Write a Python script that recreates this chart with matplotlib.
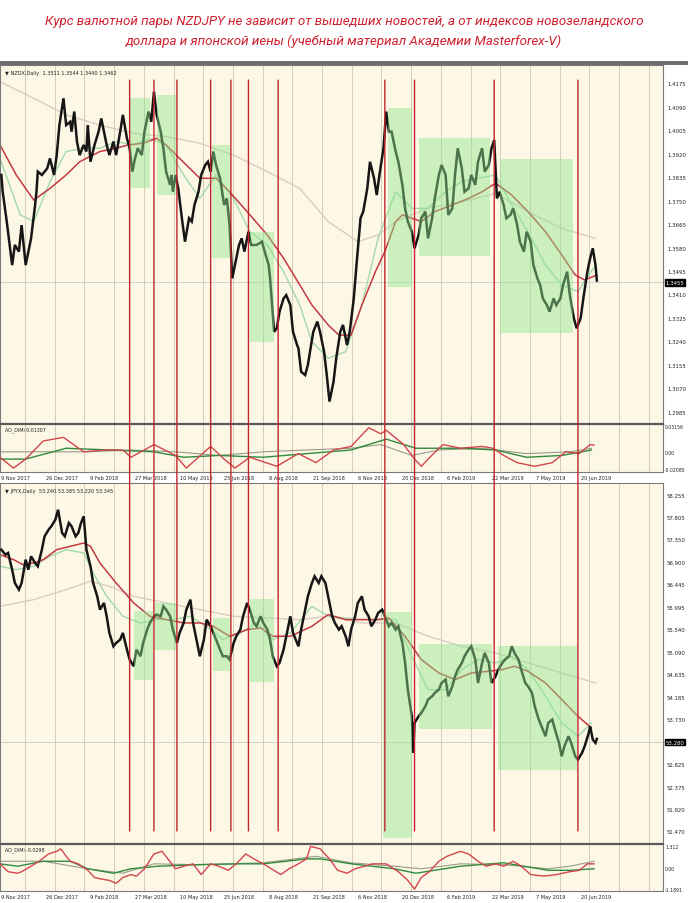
import numpy as np
import matplotlib
matplotlib.use('Agg')
import matplotlib.pyplot as plt
import matplotlib.transforms as mtransforms
from matplotlib.patches import Rectangle, ConnectionPatch

# ---------------- DATA ----------------
title_lines = ["Курс валютной пары NZDJPY не зависит от вышедших новостей, а от индексов новозеландского",
               "доллара и японской иены (учебный материал Академии Masterforex-V)"]

date_labels = ["9 Nov 2017", "26 Dec 2017", "9 Feb 2018", "27 Mar 2018", "10 May 2018", "25 Jun 2018",
               "8 Aug 2018", "21 Sep 2018", "6 Nov 2018", "20 Dec 2018", "6 Feb 2019", "22 Mar 2019",
               "7 May 2019", "20 Jun 2019"]
date_bars = [1, 34, 67, 100, 133, 166, 199, 232, 265, 298, 331, 364, 397, 430]

event_bars = [96, 114, 131, 156, 171, 184, 206, 285, 307, 366, 428]

# NZD index (top chart)
nz_header = "NZDX,Daily  1.3511 1.3544 1.3440 1.3462"
nz_bar = [1, 2, 5, 9, 11, 14, 16, 19, 21, 23, 26, 27, 28, 31, 35, 37, 40, 42, 44, 47,
          49, 52, 53, 55, 57, 59, 62, 64, 65, 67, 70, 73, 75, 77, 79, 81, 84, 86, 89, 91,
          94, 96, 98, 100, 102, 105, 107, 110, 112, 114, 116, 119, 121, 123, 126, 127, 128, 130, 132, 135,
          137, 140, 142, 144, 147, 149, 152, 154, 156, 158, 160, 163, 166, 168, 170, 172, 174, 177, 179, 181,
          184, 186, 190, 194, 196, 199, 200, 203, 205, 207, 210, 212, 215, 217, 220,
          221, 223, 226, 228, 232, 235, 237, 240, 242, 244, 247, 249, 252, 254, 257, 259, 262, 264, 267, 269,
          272, 274, 277, 279, 281, 284, 286, 288, 290, 293, 295, 298, 300, 302, 305, 307, 310, 312, 315, 317,
          320, 322, 325, 327, 330, 332, 335, 337, 339, 342, 344, 347, 349, 352, 354, 357, 359, 362, 364, 366,
          368, 370, 373, 375, 378, 380, 383, 385, 388, 390, 393, 395, 398, 400, 402, 405, 407, 410, 412, 415,
          417, 420, 422, 425, 427, 430, 432, 435, 437, 439, 441, 442]
nz_close = [1.3845, 1.3784, 1.3676, 1.3518, 1.3591, 1.3567, 1.3663, 1.3518, 1.3567, 1.3615,
            1.3736, 1.3784, 1.3857, 1.3845, 1.3869, 1.3905, 1.3845, 1.3917, 1.4026, 1.4123,
            1.4026, 1.4038, 1.4002, 1.4075, 1.3966, 1.3917, 1.3954, 1.3930, 1.4026, 1.3893,
            1.3954, 1.4002, 1.4050, 1.4002, 1.3954, 1.3917, 1.3966, 1.3917, 1.4002, 1.4063,
            1.3978, 1.3942, 1.3857, 1.3905, 1.3942, 1.3917, 1.4002, 1.4075, 1.4038, 1.4147,
            1.4063, 1.4002, 1.3942, 1.3857, 1.3809, 1.3845, 1.3784, 1.3845, 1.3796, 1.3676,
            1.3603, 1.3688, 1.3676, 1.3736, 1.3784, 1.3845, 1.3881, 1.3893, 1.3857, 1.3930,
            1.3881, 1.3833, 1.3736, 1.3760, 1.3663, 1.3470, 1.3518, 1.3591, 1.3615, 1.3567,
            1.3639, 1.3591, 1.3591, 1.3603, 1.3567, 1.3518, 1.3470, 1.3276, 1.3289, 1.3349,
            1.3397, 1.3409, 1.3373, 1.3276, 1.3228,
            1.3216, 1.3131, 1.3119, 1.3156, 1.3276, 1.3313, 1.3276, 1.3204, 1.3119, 1.3023,
            1.3095, 1.3180, 1.3276, 1.3301, 1.3228, 1.3276, 1.3397, 1.3518, 1.3688, 1.3712,
            1.3796, 1.3893, 1.3833, 1.3772, 1.3845, 1.3942, 1.4075, 1.4002, 1.4002, 1.3930,
            1.3893, 1.3809, 1.3724, 1.3676, 1.3639, 1.3579, 1.3627, 1.3688, 1.3712, 1.3615,
            1.3688, 1.3760, 1.3845, 1.3881, 1.3845, 1.3700, 1.3724, 1.3845, 1.3942, 1.3869,
            1.3784, 1.3796, 1.3845, 1.3809, 1.3893, 1.3942, 1.3857, 1.3881, 1.3942, 1.3972,
            1.3760, 1.3784, 1.3736, 1.3688, 1.3700, 1.3724, 1.3663, 1.3603, 1.3567, 1.3639,
            1.3603, 1.3518, 1.3470, 1.3446, 1.3397, 1.3373, 1.3349, 1.3397, 1.3373, 1.3397,
            1.3446, 1.3494, 1.3409, 1.3325, 1.3289, 1.3325, 1.3397, 1.3494, 1.3542, 1.3579,
            1.3518, 1.3462]
nz_ma_red_bar = [0, 12, 25, 37, 49, 59, 74, 86, 95, 106, 116, 123, 133, 148, 160, 170, 183, 198, 210, 222,
                 231, 243, 251, 260, 268, 278, 285, 293, 298, 305, 312, 322, 335, 347, 357, 367, 379, 391,
                 404, 416, 426, 433, 442]
nz_ma_red = [1.3954, 1.3845, 1.3754, 1.3796, 1.3845, 1.3893, 1.3930, 1.3942, 1.3954, 1.3960, 1.3978,
             1.3954, 1.3905, 1.3833, 1.3833, 1.3784, 1.3712, 1.3627, 1.3543, 1.3446,
             1.3373, 1.3301, 1.3264, 1.3264, 1.3373, 1.3494, 1.3567, 1.3676, 1.3700, 1.3688, 1.3676,
             1.3712, 1.3736, 1.3760, 1.3784, 1.3815, 1.3772, 1.3712, 1.3639, 1.3555, 1.3482, 1.3464, 1.3482]
nz_ma_green_bar = [0, 15, 25, 37, 49, 62, 74, 86, 99, 111, 123, 136, 148, 160, 173, 185, 198, 210, 222,
                   231, 243, 256, 268, 280, 293, 305, 317, 330, 342, 354, 367, 379, 391, 404, 416, 428, 441]
nz_ma_green = [1.3905, 1.3700, 1.3676, 1.3821, 1.3930, 1.3942, 1.3942, 1.3966, 1.3954, 1.3978, 1.3954,
               1.3845, 1.3760, 1.3845, 1.3760, 1.3639, 1.3591, 1.3494, 1.3373,
               1.3240, 1.3180, 1.3204, 1.3373, 1.3615, 1.3784, 1.3724, 1.3724, 1.3784, 1.3821, 1.3833,
               1.3845, 1.3736, 1.3639, 1.3518, 1.3446, 1.3422, 1.3518]
nz_ma_gray_bar = [0, 25, 49, 74, 99, 123, 148, 173, 198, 222, 243, 265, 280, 293, 317, 342, 367, 391, 416, 441]
nz_ma_gray = [1.4183, 1.4123, 1.4063, 1.4026, 1.3996, 1.3984, 1.3960, 1.3917, 1.3857, 1.3796,
              1.3676, 1.3603, 1.3627, 1.3676, 1.3724, 1.3748, 1.3778, 1.3712, 1.3651, 1.3615]
nz_ticks = [1.4175, 1.4090, 1.4005, 1.3920, 1.3835, 1.3750, 1.3665, 1.3580, 1.3495, 1.3410,
            1.3325, 1.3240, 1.3155, 1.3070, 1.2985]
nz_last = 1.3455
nz_box_bar0 = [96, 116, 157, 185, 287, 310, 370]
nz_box_bar1 = [111, 130, 170, 203, 305, 363, 424]
nz_box_lo = [1.3798, 1.3772, 1.3544, 1.3239, 1.3439, 1.3551, 1.3272]
nz_box_hi = [1.4124, 1.4135, 1.3954, 1.3638, 1.4088, 1.3979, 1.3903]

# NZD oscillator
nz_osc_header = "AO_DiMi 0.01307"
nz_osc_red_bar = [0, 10, 19, 32, 47, 62, 78, 91, 97, 114, 130, 138, 156, 166, 174, 185, 205, 221, 234, 247,
                  260, 273, 282, 286, 299, 307, 312, 321, 328, 341, 357, 365, 373, 383, 396, 409, 419, 429, 437, 440]
nz_osc_red = [-0.0057, -0.0188, -0.0079, 0.0140, 0.0184, 0.0009, 0.0031, 0.0031, -0.0057, 0.0096,
              -0.0035, -0.0188, 0.0074, -0.0079, -0.0188, -0.0057, -0.0166, -0.0013, -0.0122, 0.0031,
              0.0074, 0.0300, 0.0227, 0.0270, 0.0096, -0.0079, -0.0166, -0.0013, 0.0096, 0.0052,
              0.0074, 0.0052, -0.0035, -0.0122, -0.0166, -0.0122, 0.0009, -0.0013, 0.0096, 0.0090]
nz_osc_green_bar = [0, 19, 49, 81, 114, 136, 162, 195, 227, 260, 286, 308, 341, 367, 390, 416, 438]
nz_osc_green = [-0.0079, -0.0079, 0.0052, 0.0031, 0.0009, -0.0057, -0.0035, -0.0057, -0.0013, 0.0031,
                0.0162, 0.0052, 0.0052, 0.0031, -0.0057, -0.0035, 0.0031]
nz_osc_gray_bar = [0, 32, 65, 97, 130, 162, 195, 227, 260, 282, 305, 325, 357, 390, 422, 438]
nz_osc_gray = [0.0009, 0.0009, 0.0009, 0.0031, 0.0009, -0.0035, 0.0009, 0.0031, 0.0052, 0.0096,
               -0.0035, 0.0031, 0.0052, -0.0013, 0.0009, 0.0052]
nz_osc_ticks = ["0.03156", "0.00", "-0.02085"]
nz_osc_tick_vals = [0.03156, 0.0, -0.02085]

# JPY index (bottom chart)
jp_header = "JPYX,Daily  53.240 53.385 53.220 53.345"
jp_bar = [1, 4, 6, 9, 11, 14, 16, 19, 21, 23, 26, 28, 31, 33, 36, 38, 41, 43, 46, 48,
          51, 53, 56, 58, 60, 62, 64, 67, 69, 72, 74, 77, 79, 81, 84, 86, 89, 91, 94, 96,
          99, 101, 104, 106, 109, 111, 114, 116, 119, 121, 123, 126, 128, 131, 133, 136, 138, 141, 143, 146,
          148, 151, 153, 156, 158, 160, 163, 165, 168, 170, 173, 175, 178, 180, 183, 185, 188, 190, 193, 195,
          198, 200, 202, 205, 207, 210, 212, 215, 217,
          221, 223, 226, 228, 231, 233, 236, 238, 241, 243, 246, 248, 251, 253, 256, 258, 260, 263, 265, 268,
          270, 273, 275, 278, 280, 283, 285, 288, 290, 293, 295, 298, 300, 302, 305, 306, 307, 310, 312, 315,
          317, 320, 322, 325, 327, 330, 332, 335, 337, 339, 342, 344, 347, 349, 352, 354, 357, 359, 362, 364,
          367, 369, 372, 374, 377, 379, 381, 384, 386, 389, 391, 394, 396, 399, 401, 404, 406, 409, 411, 414,
          416, 418, 421, 423, 426, 428, 431, 433, 436, 437, 439, 441, 442]
jp_close = [57.155, 57.054, 57.088, 56.752, 56.484, 56.350, 56.484, 56.954, 56.752, 57.021,
            56.887, 56.820, 57.155, 57.423, 57.558, 57.625, 57.759, 57.960, 57.491, 57.423,
            57.692, 57.625, 57.423, 57.491, 57.692, 57.826, 57.155, 56.820, 56.484, 56.216,
            55.947, 56.082, 55.813, 55.478, 55.209, 55.276, 55.344, 55.478, 55.142, 54.941,
            54.807, 55.142, 55.008, 55.276, 55.545, 55.679, 55.813, 55.847, 55.813, 56.015,
            55.947, 55.813, 55.545, 55.276, 55.478, 55.679, 55.947, 56.149, 55.679, 55.276,
            55.008, 55.344, 55.746, 55.612, 55.478, 55.344, 55.142, 55.008, 55.008, 54.941,
            55.276, 55.411, 55.545, 55.813, 56.082, 55.947, 55.679, 55.612, 55.813, 55.679,
            55.545, 55.344, 55.008, 54.807, 54.874, 55.142, 55.411, 55.813, 55.478,
            55.209, 55.545, 55.947, 56.216, 56.484, 56.618, 56.484, 56.618, 56.484, 56.216,
            55.813, 55.679, 55.545, 55.612, 55.411, 55.209, 55.545, 55.813, 56.082, 56.216,
            55.947, 55.813, 55.612, 55.746, 55.880, 55.947, 55.813, 55.612, 55.679, 55.545,
            55.612, 55.276, 54.874, 54.337, 53.800, 53.062, 53.666, 53.800, 53.867, 54.001,
            54.136, 54.203, 54.270, 54.337, 54.471, 54.538, 54.203, 54.404, 54.605, 54.739,
            54.874, 55.008, 55.142, 55.209, 54.941, 54.471, 54.874, 55.075, 54.874, 54.471,
            54.605, 54.739, 54.874, 54.941, 55.008, 55.209, 55.075, 54.941, 54.739, 54.471,
            54.404, 54.270, 54.001, 53.733, 53.599, 53.398, 53.666, 53.733, 53.532, 53.264,
            52.995, 53.197, 53.398, 53.264, 52.995, 52.928, 53.062, 53.197, 53.465, 53.599,
            53.331, 53.264, 53.345]
jp_ma_red_bar = [0, 10, 17, 25, 32, 42, 52, 62, 67, 74, 86, 99, 111, 123, 136, 148, 158, 170, 183, 193,
                 202, 215, 231, 243, 256, 268, 280, 288, 300, 312, 325, 337, 349, 362, 372, 381, 391,
                 404, 416, 428, 438]
jp_ma_red = [57.054, 56.954, 56.853, 56.887, 56.954, 57.155, 57.222, 57.289, 57.222, 56.887, 56.484,
             56.082, 55.813, 55.746, 55.679, 55.679, 55.612, 55.411, 55.545, 55.578,
             55.411, 55.411, 55.612, 55.847, 55.746, 55.746, 55.746, 55.780, 55.411, 54.941, 54.672,
             54.538, 54.672, 54.706, 54.740, 54.807, 54.706, 54.471, 54.136, 53.800, 53.566]
jp_ma_green_bar = [0, 12, 25, 37, 49, 62, 69, 79, 91, 104, 116, 128, 141, 153, 165, 178, 190, 202, 215,
                   231, 243, 268, 293, 305, 317, 330, 342, 354, 367, 379, 391, 404, 416, 428, 438]
jp_ma_green = [56.820, 56.752, 56.820, 57.021, 57.155, 57.088, 56.685, 56.216, 55.813, 55.679, 55.746,
               55.746, 55.813, 55.612, 55.344, 55.478, 55.679, 55.344, 55.478,
               56.015, 55.813, 55.746, 55.746, 55.008, 54.337, 54.337, 54.740, 54.941, 54.874, 55.008,
               54.740, 54.203, 53.666, 53.398, 53.666]
jp_ma_gray_bar = [0, 25, 49, 67, 81, 99, 123, 148, 173, 198, 222, 243, 268, 293, 305, 317, 342, 367, 391, 416, 441]
jp_ma_gray = [56.015, 56.149, 56.350, 56.518, 56.417, 56.216, 56.082, 55.947, 55.813, 55.780, 55.746,
              55.813, 55.679, 55.679, 55.545, 55.411, 55.209, 55.075, 54.874, 54.672, 54.471]
jp_ticks = [58.255, 57.805, 57.350, 56.900, 56.445, 55.995, 55.540, 55.090, 54.635, 54.185,
            53.730, 52.825, 52.375, 51.920, 51.470]
jp_last = 53.280
jp_box_bar0 = [99, 115, 158, 185, 284, 310, 369]
jp_box_bar1 = [113, 130, 170, 203, 305, 364, 427]
jp_box_lo = [54.531, 55.135, 54.712, 54.491, 51.351, 53.545, 52.720]
jp_box_hi = [55.920, 56.081, 55.779, 56.162, 55.900, 55.256, 55.215]

# JPY oscillator
jp_osc_header = "AO_DiMi -0.0298"
jp_osc_red_bar = [0, 6, 13, 16, 23, 29, 36, 42, 45, 49, 52, 58, 65, 70, 75, 81, 86, 91, 97, 101,
                  107, 114, 120, 130, 136, 143, 149, 156, 162, 169, 175, 182, 188, 195, 201, 208, 214, 221, 227, 230,
                  237, 244, 250, 257, 263, 270, 276, 286, 295, 302, 307, 312, 318, 325, 331, 341, 347, 354, 360, 367,
                  373, 380, 386, 393, 403, 412, 422, 429, 435, 440]
jp_osc_red = [0.29, -0.17, -0.26, -0.17, 0.15, 0.44, 0.87, 1.02, 1.17, 0.73, 0.44, 0.29, -0.09, -0.51, -0.60,
              -0.68, -0.85, -0.51, -0.34, -0.43, 0.0, 0.87, 1.02, 0.0, 0.15, 0.29, -0.34, 0.29, 0.15, -0.09,
              0.29, 0.87, 0.58, 0.29, 0.0, -0.34, 0.0, 0.29, 0.58, 1.31, 1.17, 0.58, -0.09, -0.26, 0.0,
              0.15, 0.29, 0.29, -0.17, -0.68, -1.19, -0.51, -0.17, 0.44, 0.73, 1.02, 0.87, 0.44, 0.15, 0.29,
              0.15, 0.44, 0.15, -0.34, -0.43, -0.34, -0.17, -0.09, 0.29, 0.29]
jp_osc_green_bar = [0, 13, 32, 52, 65, 84, 97, 117, 146, 179, 195, 227, 237, 260, 292, 308, 341, 373, 406, 422, 440]
jp_osc_green = [0.29, 0.15, 0.44, 0.44, 0.0, -0.26, 0.0, 0.15, 0.24, 0.29, 0.29, 0.58, 0.58, 0.29, 0.0,
                -0.26, 0.15, 0.35, -0.09, -0.09, 0.0]
jp_osc_gray_bar = [0, 32, 65, 91, 114, 146, 195, 234, 260, 292, 312, 341, 373, 406, 422, 440]
jp_osc_gray = [0.44, 0.44, 0.0, -0.26, 0.29, 0.24, 0.35, 0.73, 0.35, 0.15, 0.0, 0.29, 0.24, 0.0, 0.15, 0.44]
jp_osc_ticks = ["1.312", "0.00", "-1.1891"]
jp_osc_tick_vals = [1.312, 0.0, -1.1891]

# ---------------- STYLE / LAYOUT ----------------
W, H = 688, 904
BG = '#fdf8e6'
GRID = '#d3ccb8'
PRICE = '#161616'
RED_MA = '#c23a40'
GREEN_MA = '#a3d9ab'
GRAY_MA = '#dccbc0'
EVENT = '#c0262c'
BOXC = '#8fe68d'
XMAX = 491

plt.rcParams['font.family'] = ['DejaVu Sans']
fig = plt.figure(figsize=(W / 100, H / 100), dpi=100)
fig.patch.set_facecolor('white')


def px_axes(x0, y0, x1, y1):
    return fig.add_axes([x0 / W, 1 - y1 / H, (x1 - x0) / W, (y1 - y0) / H])


def setup(ax, ylim):
    ax.set_xlim(0, XMAX)
    ax.set_ylim(*ylim)
    ax.set_facecolor(BG)
    ax.set_xticks([])
    ax.set_yticks([])
    for s in ax.spines.values():
        s.set_color('#7a7a7a')
        s.set_linewidth(0.8)
    for g in np.arange(18.5, XMAX, 22):
        ax.axvline(g, color=GRID, lw=0.7, zorder=0)


def right_label(ax, val, text, box=False, fs=3.9, dx=1.006):
    tr = mtransforms.blended_transform_factory(ax.transAxes, ax.transData)
    if box:
        ax.text(1.004, val, text, transform=tr, fontsize=fs, color='white', va='center', ha='left',
                clip_on=False, bbox=dict(boxstyle='square,pad=0.15', fc='black', ec='black'))
    else:
        ax.text(dx, val, text, transform=tr, fontsize=fs, color='#222222', va='center', ha='left',
                clip_on=False)


def main_chart(ax, ylim, header, bars, close, red_b, red_v, grn_b, grn_v, gry_b, gry_v,
               ticks, last, fmt, b0, b1, lo, hi):
    setup(ax, ylim)
    ax.axhline(last, color='#d0d0d0', lw=0.7, zorder=1)
    ax.plot(gry_b, gry_v, color=GRAY_MA, lw=1.0, zorder=2)
    ax.plot(grn_b, grn_v, color=GREEN_MA, lw=1.0, zorder=2)
    ax.plot(red_b, red_v, color=RED_MA, lw=1.1, zorder=2)
    ax.plot(bars, close, color=PRICE, lw=1.8, zorder=3, solid_joinstyle='miter')
    for a, b, l, h in zip(b0, b1, lo, hi):
        ax.add_patch(Rectangle((a, l), b - a, h - l, facecolor=BOXC, edgecolor='none', alpha=0.45, zorder=4))
    for t in ticks:
        right_label(ax, t, fmt.format(t))
    right_label(ax, last, fmt.format(last), box=True)
    ax.text(0.008, 0.985, '\u25bc ' + header, transform=ax.transAxes, fontsize=3.6, color='#222222',
            va='top', ha='left')


def osc_chart(ax, ylim, header, rb, rv, gb, gv, yb, yv, tick_txt, tick_vals):
    setup(ax, ylim)
    ax.plot(yb, yv, color='#9a9a8a', lw=0.8, zorder=2)
    ax.plot(gb, gv, color='#2f8a3e', lw=1.0, zorder=2)
    ax.plot(rb, rv, color='#d2464c', lw=1.0, zorder=3)
    for t, v in zip(tick_txt, tick_vals):
        right_label(ax, v, t, fs=3.3, dx=1.003)
    ax.text(0.008, 0.95, header, transform=ax.transAxes, fontsize=3.4, color='#222222', va='top', ha='left')
    tr = mtransforms.blended_transform_factory(ax.transData, ax.transAxes)
    for b, lab in zip(date_bars, date_labels):
        ax.text(b, -0.06, lab, transform=tr, fontsize=3.6, color='#222222', va='top', ha='left', clip_on=False)


ax1 = px_axes(0, 66, 663, 425)
ax2 = px_axes(0, 425, 663, 473)
ax3 = px_axes(0, 484, 663, 845)
ax4 = px_axes(0, 845, 663, 892)

main_chart(ax1, (1.29415, 1.42439), nz_header, nz_bar, nz_close, nz_ma_red_bar, nz_ma_red,
           nz_ma_green_bar, nz_ma_green, nz_ma_gray_bar, nz_ma_gray, nz_ticks, nz_last, '{:.4f}',
           nz_box_bar0, nz_box_bar1, nz_box_lo, nz_box_hi)
osc_chart(ax2, (-0.0235, 0.0345), nz_osc_header, nz_osc_red_bar, nz_osc_red, nz_osc_green_bar, nz_osc_green,
          nz_osc_gray_bar, nz_osc_gray, nz_osc_ticks, nz_osc_tick_vals)
main_chart(ax3, (51.228, 58.497), jp_header, jp_bar, jp_close, jp_ma_red_bar, jp_ma_red,
           jp_ma_green_bar, jp_ma_green, jp_ma_gray_bar, jp_ma_gray, jp_ticks, jp_last, '{:.3f}',
           jp_box_bar0, jp_box_bar1, jp_box_lo, jp_box_hi)
osc_chart(ax4, (-1.30, 1.45), jp_osc_header, jp_osc_red_bar, jp_osc_red, jp_osc_green_bar, jp_osc_green,
          jp_osc_gray_bar, jp_osc_gray, jp_osc_ticks, jp_osc_tick_vals)

# separators
for ax in (ax2, ax4):
    ax.spines['top'].set_color('#5a5a5a')
    ax.spines['top'].set_linewidth(1.6)

# event lines spanning both charts
for b in event_bars:
    con = ConnectionPatch(xyA=(b, 0.958), coordsA=ax1.get_xaxis_transform(),
                          xyB=(b, 0.036), coordsB=ax3.get_xaxis_transform(),
                          color=EVENT, lw=1.0, zorder=10)
    fig.add_artist(con)

# title
fig.text(0.5, 1 - 22 / H, title_lines[0], ha='center', va='center', color='#d0202e', fontsize=9.6,
         style='italic', family=['Roboto', 'DejaVu Sans'])
fig.text(0.5, 1 - 41 / H, title_lines[1], ha='center', va='center', color='#d0202e', fontsize=9.6,
         style='italic', family=['Roboto', 'DejaVu Sans'])
fig.add_artist(Rectangle((0, 1 - 66 / H), 1, 4 / H, transform=fig.transFigure, facecolor='#6e6e6e',
                         edgecolor='none'))

fig.savefig('out.png', dpi=100, facecolor=fig.get_facecolor())
